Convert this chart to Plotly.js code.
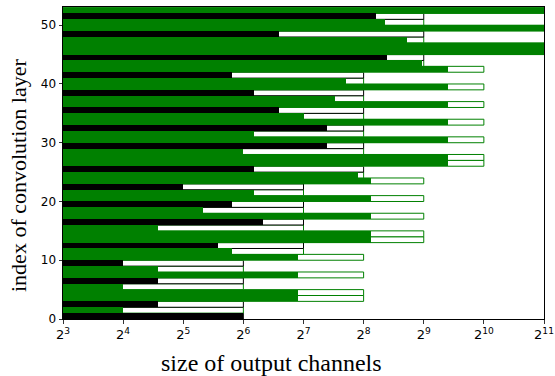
<!DOCTYPE html>
<html>
<head>
<meta charset="utf-8">
<script src="https://cdn.plot.ly/plotly-3.0.1.min.js"></script>
<style>
  html, body { margin: 0; padding: 0; background: #fff; }
  #chart { width: 555px; height: 376px; }
</style>
</head>
<body>
<div id="chart"></div>
<script>
// layer index of each convolution layer
const layerIndex = Array.from({length: 53}, (_, i) => i);

// original number of output channels per layer
const originalChannels = [
  64, 64, 64, 256, 256, 64, 64, 256, 64, 64, 256,
  128, 128, 512, 512, 128, 128, 512, 128, 128, 512, 128, 128, 512,
  256, 256, 1024, 1024, 256, 256, 1024, 256, 256, 1024, 256, 256, 1024, 256, 256, 1024, 256, 256, 1024,
  512, 512, 2048, 2048, 512, 512, 2048, 512, 512, 2048
];

// remaining number of output channels per layer
const prunedChannels = [
  64, 16, 24, 120, 120, 16, 24, 120, 24, 16, 120,
  56, 48, 280, 280, 24, 80, 280, 40, 56, 280, 72, 32, 280,
  240, 72, 680, 680, 64, 168, 680, 72, 168, 680, 128, 96, 680, 184, 72, 680, 208, 56, 680,
  504, 336, 2048, 2048, 424, 96, 2048, 328, 296, 2048
];

// layer group: "k" = black, "g" = green
const layerGroup = [
  "k", "g", "k", "g", "g", "g", "k", "g", "g", "k", "g",
  "g", "k", "g", "g", "g", "k", "g", "g", "k", "g", "g", "k", "g",
  "g", "k", "g", "g", "g", "k", "g", "g", "k", "g", "g", "k", "g", "g", "k", "g", "g", "k", "g",
  "g", "k", "g", "g", "g", "k", "g", "g", "k", "g"
];

// tick labels
const xTickVals = [8, 16, 32, 64, 128, 256, 512, 1024, 2048];
const xTickText = ["2<sup>3</sup>", "2<sup>4</sup>", "2<sup>5</sup>", "2<sup>6</sup>", "2<sup>7</sup>",
                   "2<sup>8</sup>", "2<sup>9</sup>", "2<sup>10</sup>", "2<sup>11</sup>"];
const yTickVals = [0, 10, 20, 30, 40, 50];

const xTitle = "size of output channels";
const yTitle = "index of convolution layer";

const colorOf = g => g === "k" ? "#000000" : "#008000";
const colors = layerGroup.map(colorOf);

const outline = {
  type: "bar",
  orientation: "h",
  y: layerIndex,
  x: originalChannels,
  width: 1,
  offset: 0,
  marker: { color: "#ffffff", line: { color: colors, width: 1 } },
  hoverinfo: "skip",
  showlegend: false
};

const filled = {
  type: "bar",
  orientation: "h",
  y: layerIndex,
  x: prunedChannels,
  width: 1,
  offset: 0,
  marker: { color: colors, line: { width: 0 } },
  hoverinfo: "skip",
  showlegend: false
};

const titleFont = { family: "Liberation Serif", color: "#000" };

const layout = {
  width: 555,
  height: 376,
  margin: { l: 63, r: 11, t: 7, b: 57 },
  paper_bgcolor: "#ffffff",
  plot_bgcolor: "#ffffff",
  barmode: "overlay",
  bargap: 0,
  showlegend: false,
  font: { family: "DejaVu Sans", size: 12, color: "#000" },
  xaxis: {
    type: "log",
    range: [Math.log10(8), Math.log10(2048)],
    tickvals: xTickVals,
    ticktext: xTickText,
    ticks: "outside",
    ticklen: 3.5,
    tickwidth: 0.8,
    tickcolor: "#000",
    showline: true,
    linecolor: "#000",
    linewidth: 1,
    mirror: true,
    showgrid: false,
    zeroline: false,
    tickfont: { family: "DejaVu Sans", size: 13, color: "#000" }
  },
  yaxis: {
    range: [0, 53.1],
    tickvals: yTickVals,
    ticks: "outside",
    ticklen: 3.5,
    tickwidth: 0.8,
    tickcolor: "#000",
    showline: true,
    linecolor: "#000",
    linewidth: 1,
    mirror: true,
    showgrid: false,
    zeroline: false,
    tickfont: { family: "DejaVu Sans", size: 12, color: "#000" }
  },
  annotations: [
    {
      text: xTitle,
      xref: "paper", yref: "paper",
      x: (271 - 63) / 481, y: (319 - 363) / 312,
      xanchor: "center", yanchor: "middle",
      showarrow: false,
      font: Object.assign({ size: 24 }, titleFont)
    },
    {
      text: yTitle,
      xref: "paper", yref: "paper",
      x: (18 - 63) / 481, y: (319 - 176) / 312,
      xanchor: "center", yanchor: "middle",
      textangle: -90,
      showarrow: false,
      font: Object.assign({ size: 22 }, titleFont)
    }
  ]
};

Plotly.newPlot("chart", [outline, filled], layout, { staticPlot: true, displayModeBar: false });
</script>
</body>
</html>
